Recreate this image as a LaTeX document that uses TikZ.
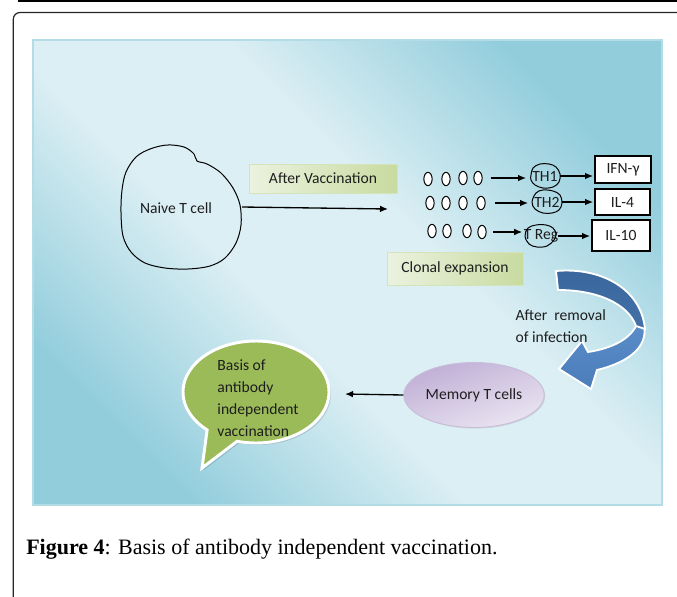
\documentclass[tikz,border=0pt]{standalone}
\usepackage{fontspec}
\setmainfont{Carlito}
\newfontfamily\capfont{Liberation Serif}
\usetikzlibrary{arrows.meta,shapes.geometric,shadows}
\definecolor{bgdark}{HTML}{92CDDC}
\definecolor{bglight}{HTML}{DCEFF4}
\definecolor{bgborder}{HTML}{B3DCE7}
\definecolor{gboxl}{HTML}{EBF2DF}
\definecolor{gboxr}{HTML}{C8DBA0}
\definecolor{gboxb}{HTML}{D5E3BB}
\definecolor{memdark}{HTML}{C0AFD6}
\definecolor{memlight}{HTML}{EAE5F1}
\definecolor{memborder}{HTML}{C9BDDA}
\definecolor{bubgreen}{HTML}{9BBB59}
\definecolor{arrdark}{HTML}{3A669E}
\definecolor{arrdark2}{HTML}{4470A8}
\definecolor{arrlight}{HTML}{4A7DBA}
\definecolor{arrlight2}{HTML}{5A8CC8}
\definecolor{txtc}{HTML}{1E1E1E}
\pgfdeclareverticalshading{panelshade}{100bp}{color(0bp)=(bgdark); color(25bp)=(bgdark); color(43bp)=(bglight); color(57bp)=(bglight); color(75bp)=(bgdark); color(100bp)=(bgdark)}
\tikzset{
  lbl/.style={font=\fontsize{11.7}{16.5}\selectfont, text=txtc, inner sep=1pt},
  greenbox/.style={lbl, rectangle, draw=gboxb, line width=0.7pt, left color=gboxl, right color=gboxr,
     drop shadow={shadow xshift=0.8pt, shadow yshift=-0.8pt, opacity=0.25}},
  cytobox/.style={lbl, rectangle, draw=black, line width=0.9pt, fill=white},
  eggnode/.style={ellipse, draw=black, line width=0.75pt, fill=white, minimum width=6.2pt, minimum height=10pt, inner sep=0pt},
  thnode/.style={lbl, inner sep=0pt, minimum width=22pt, minimum height=17pt},
  arr/.style={-{Latex[length=6pt,width=5pt]}, line width=1pt, black},
  blob/.style={draw=black, line width=0.75pt},
}
\begin{document}
\begin{tikzpicture}[x=0.75pt,y=-0.75pt]
\useasboundingbox (0,0) rectangle (677,596);
\fill[white] (0,0) rectangle (677,596);
% outer rules
\draw[line width=1.4pt] (18,0.8) -- (690,0.8);
\draw[line width=0.9pt, black!85, rounded corners=5pt] (700,12.5) -- (13.3,12.5) -- (13.3,620);
% panel
\shade[shading=panelshade, shading angle=-45] (33,40) rectangle (662,505);
\draw[bgborder, line width=1.1pt] (33,40) rectangle (662,505);

% naive T cell
\node[lbl] (naive) at (176,208) {Naive T cell};
\draw[blob] plot[smooth cycle, tension=0.55] coordinates {(126,172) (136,157) (150,149) (167,145) (184,147) (194,154) (197,161) (207,164) (221,173) (233,188) (240,205) (241,225) (236,243) (225,258) (210,266) (188,269) (165,268) (145,263) (131,252) (123,236) (121,212) (122,190)};
\coordinate (vacend) at (388,209);
\draw[arr] (242,207) -- (vacend);

% green boxes
\node[greenbox, minimum width=111pt, minimum height=21.75pt] (vacc) at (323,178.5) {After Vaccination};
\node[greenbox, minimum width=102pt, minimum height=24.75pt] (clonal) at (455,268.5) {Clonal expansion};

% eggs
\foreach \n/\x/\y in {a1/428/179, a2/446/179, a3/463/178, a4/478/178,
                      b1/430/203, b2/446/203, b3/463/203, b4/481/203,
                      c1/432/231, c2/447/231, c3/467/231, c4/482/232}{
  \node[eggnode] (\n) at (\x,\y) {};
}

% T helper blobs
\node[thnode] (th1) at (545,176) {TH1};
\node[thnode] (th2) at (547,202) {TH2};
\node[thnode] (treg) at (541,236) {T Reg};
\draw[blob, shift={(th1)}] plot[smooth cycle, tension=0.6] coordinates {(-14,-1) (-12,-8) (-5,-12) (4,-12) (11,-9) (15,-2) (14,6) (8,11) (-2,12) (-10,9) (-14,4)};
\draw[blob, shift={(th2)}] plot[smooth cycle, tension=0.6] coordinates {(-15,0) (-11,-9) (-4,-12) (6,-11) (13,-7) (15,1) (12,8) (5,11) (-4,11) (-12,7)};
\draw[blob, shift={(treg)}] plot[smooth cycle, tension=0.6] coordinates {(-16,0) (-13,-8) (-5,-11) (5,-11) (12,-8) (15,-2) (13,4) (6,10) (-4,11) (-12,8)};

% cytokine boxes
\node[cytobox, minimum width=42pt, minimum height=20.25pt] (ifn) at (623,169.5) {IFN-γ};
\node[cytobox, minimum width=41.25pt, minimum height=19.5pt] (il4) at (622.5,202) {IL-4};
\node[cytobox, minimum width=43.5pt, minimum height=23.25pt] (il10) at (621,235.5) {IL-10};

% row arrows
\draw[arr, shorten <=6pt, shorten >=3pt] (a4.east) -- (a4.east -| th1.west);
\draw[arr, shorten >=1pt] (th1.east) -- (th1.east -| ifn.west);
\draw[arr, shorten <=7pt, shorten >=3pt] (b4.east) -- (b4.east -| th2.west);
\draw[arr, shorten >=1pt] (th2.east) -- (th2.east -| il4.west);
\draw[arr, shorten <=5pt, shorten >=1pt] (c4.east) -- (c4.east -| treg.west);
\draw[arr, shorten >=1pt] (treg.east) -- (treg.east -| il10.west);

% curved block arrow
\shade[top color=arrlight2, bottom color=arrlight, draw=white, line width=1.4pt]
  (644,326) .. controls (648,346) and (630,362) .. (597,370) -- (591,389) -- (559,369) -- (582,341) -- (588,352)
  .. controls (614,348) and (631,338) .. (637,324) -- cycle;
\shade[top color=arrdark, bottom color=arrdark2, draw=white, line width=1.4pt]
  (556,271) .. controls (600,267) and (641,288) .. (645,329) -- (636,326) .. controls (628,304) and (598,290) .. (558,290) -- cycle;
\node[lbl, align=left, anchor=west] (removal) at (514,326) {After~ removal\\of infection};

% memory T cells
\node[lbl, ellipse, draw=memborder, line width=0.7pt, top color=memdark, bottom color=memlight, shading angle=20,
      minimum width=96pt, minimum height=48.75pt,
      drop shadow={shadow xshift=0.8pt, shadow yshift=-0.8pt, opacity=0.2}] (memory) at (474,395) {Memory T cells};
\coordinate (bubend) at (345,394);
\draw[arr] (memory.west) -- (bubend);

% speech bubble
\fill[black, opacity=0.12] (204,470) -- plot[domain=132:465, samples=90] ({258+73*cos(\x)},{394+51*sin(\x)}) -- cycle;
\draw[white, line width=2.2pt, fill=bubgreen] (202,468) -- plot[domain=132:465, samples=90] ({256+73*cos(\x)},{392+51*sin(\x)}) -- cycle;
\node[lbl, align=left] (bubble) at (258,398) {Basis of\\antibody\\independent\\vaccination};

% caption
\node[anchor=base west, inner sep=0pt, font=\capfont\fontsize{16.5}{19}\selectfont] (caption) at (26,554)
  {\textbf{Figure 4}: Basis of antibody independent vaccination.};
\end{tikzpicture}
\end{document}
